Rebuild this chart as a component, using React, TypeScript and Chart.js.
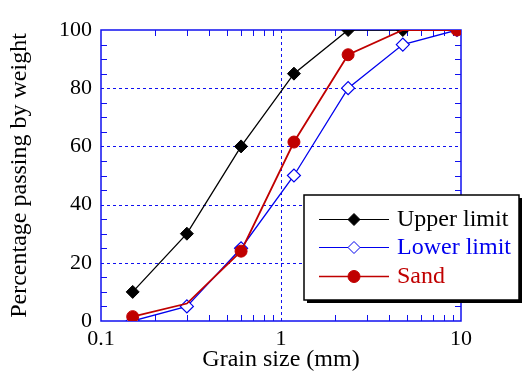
import React, { useEffect, useRef } from "react";
import { Chart, registerables } from "chart.js";

Chart.register(...registerables);

const grainSizes = [0.15, 0.3, 0.6, 1.18, 2.36, 4.75, 9.5];
const upperLimit = [10, 30, 60, 85, 100, 100, null];
const lowerLimit = [0, 5, 25, 50, 80, 95, 100];
const sand = [1.5, 6, 24, 61.5, 91.5, 100, 100];
const sandMarkerShown = [true, false, true, true, true, false, true];

const xMajor = [0.1, 1, 10];
const xMinor = [0.2, 0.3, 0.4, 0.5, 0.6, 0.7, 0.8, 0.9, 2, 3, 4, 5, 6, 7, 8, 9];
const yGrid = [20, 40, 60, 80];
const yMinorStep = 5;

const legendItems = [
  { label: "Upper limit", color: "#000000", style: "rectRot", fill: "#000000", width: 1 },
  { label: "Lower limit", color: "#0000ee", style: "rectRot", fill: "#ffffff", width: 1 },
  { label: "Sand", color: "#c00000", style: "circle", fill: "#c00000", width: 1.6 },
];

const SERIF = "'Liberation Serif', 'Times New Roman', serif";
const AXIS_BLUE = "#1010f0";

const framePlugin = {
  id: "frame",
  beforeDatasetsDraw(chart: any) {
    const { ctx, chartArea: a, scales } = chart;
    const xs = scales.x, ys = scales.y;
    ctx.save();
    ctx.strokeStyle = AXIS_BLUE;
    ctx.lineWidth = 1;
    ctx.setLineDash([3, 3]);
    ctx.beginPath();
    for (const v of yGrid) {
      const y = Math.round(ys.getPixelForValue(v)) + 0.5;
      ctx.moveTo(a.left, y);
      ctx.lineTo(a.right, y);
    }
    const x1 = Math.round(xs.getPixelForValue(1)) + 0.5;
    ctx.moveTo(x1, a.top);
    ctx.lineTo(x1, a.bottom);
    ctx.stroke();
    ctx.setLineDash([]);
    ctx.beginPath();
    const tl = 6;
    for (let v = yMinorStep; v < 100; v += yMinorStep) {
      if (v % 20 === 0) continue;
      const y = Math.round(ys.getPixelForValue(v)) + 0.5;
      ctx.moveTo(a.left, y);
      ctx.lineTo(a.left + tl, y);
      ctx.moveTo(a.right, y);
      ctx.lineTo(a.right - tl, y);
    }
    for (const v of xMinor) {
      const x = Math.round(xs.getPixelForValue(v)) + 0.5;
      ctx.moveTo(x, a.bottom);
      ctx.lineTo(x, a.bottom - tl);
      ctx.moveTo(x, a.top);
      ctx.lineTo(x, a.top + tl);
    }
    ctx.stroke();
    ctx.lineWidth = 1.5;
    ctx.strokeRect(a.left, a.top, a.right - a.left, a.bottom - a.top);
    ctx.restore();
  },
};

const legendPlugin = {
  id: "customLegend",
  afterDraw(chart: any) {
    const { ctx } = chart;
    const bx = 304, by = 195, bw = 215, bh = 105;
    ctx.save();
    ctx.fillStyle = "#000";
    ctx.fillRect(bx + 3, by + 3, bw, bh);
    ctx.fillStyle = "#fff";
    ctx.fillRect(bx, by, bw, bh);
    ctx.strokeStyle = "#000";
    ctx.lineWidth = 1.5;
    ctx.strokeRect(bx, by, bw, bh);
    const rows = [219, 247, 276];
    legendItems.forEach((it, i) => {
      const y = rows[i];
      ctx.strokeStyle = it.color;
      ctx.lineWidth = it.width;
      ctx.beginPath();
      ctx.moveTo(319, y + 0.5);
      ctx.lineTo(389, y + 0.5);
      ctx.stroke();
      ctx.lineWidth = 1;
      ctx.fillStyle = it.fill;
      ctx.strokeStyle = it.color;
      ctx.beginPath();
      if (it.style === "circle") {
        ctx.arc(354, y + 0.5, 6, 0, Math.PI * 2);
      } else {
        ctx.moveTo(354, y - 5.5);
        ctx.lineTo(360, y + 0.5);
        ctx.lineTo(354, y + 6.5);
        ctx.lineTo(348, y + 0.5);
        ctx.closePath();
      }
      ctx.fill();
      ctx.stroke();
      ctx.fillStyle = it.color;
      ctx.font = `24px ${SERIF}`;
      ctx.textBaseline = "middle";
      ctx.textAlign = "left";
      ctx.fillText(it.label, 397, y + 1);
    });
    ctx.restore();
  },
};

export default function App() {
  const ref = useRef<HTMLCanvasElement>(null);
  useEffect(() => {
    document.body.style.margin = "0";
    const toPts = (vals: (number | null)[]) =>
      grainSizes.map((g, i) => ({ x: g, y: vals[i] })).filter((p) => p.y !== null);
    const chart = new Chart(ref.current!, {
      type: "line",
      data: {
        datasets: [
          {
            label: "Sand",
            data: toPts(sand) as any,
            borderColor: "#c00000",
            backgroundColor: "#c00000",
            borderWidth: 1.8,
            pointStyle: "circle",
            pointRadius: sandMarkerShown.map((s) => (s ? 6 : 0)),
            pointBorderWidth: 1,
            order: 0,
          },
          {
            label: "Upper limit",
            data: toPts(upperLimit) as any,
            borderColor: "#000000",
            backgroundColor: "#000000",
            borderWidth: 1.3,
            pointStyle: "rectRot",
            pointRadius: 6.5,
            pointBorderWidth: 1,
            order: 1,
          },
          {
            label: "Lower limit",
            data: toPts(lowerLimit) as any,
            borderColor: "#0000ee",
            backgroundColor: "#ffffff",
            borderWidth: 1.3,
            pointStyle: "rectRot",
            pointRadius: 6.5,
            pointBorderWidth: 1.2,
            order: 2,
          },
        ],
      },
      options: {
        responsive: false,
        animation: false,
        devicePixelRatio: 1,
        layout: { padding: { top: 30, right: 62, left: 0, bottom: 0 } },
        plugins: { legend: { display: false }, tooltip: { enabled: false } },
        elements: { line: { tension: 0 } },
        scales: {
          x: {
            type: "logarithmic",
            min: 0.1,
            max: 10,
            grid: { display: false, drawTicks: false },
            border: { display: false },
            afterBuildTicks: (s: any) => {
              s.ticks = xMajor.map((v) => ({ value: v }));
            },
            afterFit: (s: any) => {
              s.height = 51;
            },
            ticks: {
              autoSkip: false,
              maxRotation: 0,
              padding: 5,
              color: "#000",
              font: { family: SERIF, size: 22 },
              callback: (v: any) => String(v),
            },
            title: {
              display: true,
              text: "Grain size (mm)",
              color: "#000",
              font: { family: SERIF, size: 24, lineHeight: 1 },
              padding: 0,
            },
          },
          y: {
            min: 0,
            max: 100,
            grid: { display: false, drawTicks: false },
            border: { display: false },
            afterFit: (s: any) => {
              s.width = 101;
            },
            ticks: {
              stepSize: 20,
              padding: 9,
              color: "#000",
              font: { family: SERIF, size: 22 },
            },
            title: {
              display: true,
              text: "Percentage passing by weight",
              color: "#000",
              font: { family: SERIF, size: 24 },
              padding: { top: 5, bottom: 0 },
            },
          },
        },
      } as any,
      plugins: [framePlugin, legendPlugin],
    });
    return () => chart.destroy();
  }, []);
  return (
    <div style={{ position: "absolute", left: 0, top: 0, width: 523, height: 372 }}>
      <canvas ref={ref} width={523} height={372} />
    </div>
  );
}
